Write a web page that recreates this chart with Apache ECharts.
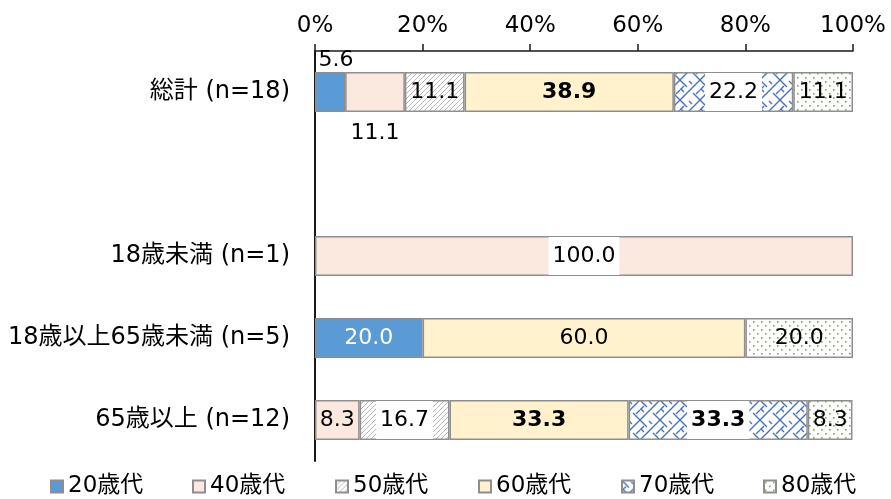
<!DOCTYPE html>
<html>
<head>
<meta charset="utf-8">
<script src="https://cdn.jsdelivr.net/npm/echarts@6/dist/echarts.min.js"></script>
<style>
  html, body { margin: 0; padding: 0; background: #fff; }
  #chart { width: 891px; height: 499px; }
</style>
</head>
<body>
<div id="chart"></div>
<script>
// Age-group composition by respondent group (percent)
const categories = ['総計 (n=18)', '', '18歳未満 (n=1)', '18歳以上65歳未満 (n=5)', '65歳以上 (n=12)'];
const seriesNames = ['20歳代', '40歳代', '50歳代', '60歳代', '70歳代', '80歳代'];
const age20 = [5.6, null, null, 20.0, null];
const age40 = [11.1, null, 100.0, null, 8.3];
const age50 = [11.1, null, null, null, 16.7];
const age60 = [38.9, null, null, 60.0, 33.3];
const age70 = [22.2, null, null, null, 33.3];
const age80 = [11.1, null, null, 20.0, 8.3];
const xTicks = [0, 20, 40, 60, 80, 100];

const FONT = '"DejaVu Sans", "Noto Sans CJK JP", sans-serif';
const BORDER = '#8e8e8e';

// ---- fill patterns ----
function makeTile(w, h, draw) {
  const c = document.createElement('canvas');
  c.width = w; c.height = h;
  const g = c.getContext('2d');
  g.fillStyle = '#fff';
  g.fillRect(0, 0, w, h);
  draw(g);
  return { image: c, repeat: 'repeat' };
}
const hatchGrey = makeTile(5, 5, g => {
  g.strokeStyle = '#b8b8b8';
  g.lineWidth = 1;
  g.beginPath();
  g.moveTo(-1, 6); g.lineTo(6, -1);
  g.moveTo(-1, 1); g.lineTo(1, -1);
  g.moveTo(4, 6); g.lineTo(6, 4);
  g.stroke();
});
const weaveBlue = makeTile(20, 20, g => {
  g.strokeStyle = '#4472c4';
  g.lineWidth = 1.4;
  g.beginPath();
  // rising strands
  g.moveTo(0, 20); g.lineTo(20, 0);
  g.moveTo(0, 10); g.lineTo(4, 6);
  g.moveTo(16, 14); g.lineTo(20, 10);
  // falling strands passing under
  g.moveTo(0, 0); g.lineTo(7, 7);
  g.moveTo(13, 13); g.lineTo(20, 20);
  g.moveTo(9, 1); g.lineTo(12, 4);
  g.moveTo(1, 9); g.lineTo(4, 12);
  g.stroke();
});
const dotsGreen = makeTile(8, 8, g => {
  g.fillStyle = '#6fb04a';
  g.fillRect(1, 1, 1.6, 1.6);
  g.fillRect(5, 5, 1.6, 1.6);
});

const fills = ['#5b9bd5', '#fbe8de', hatchGrey, '#fff2cc', weaveBlue, dotsGreen];
const values = [age20, age40, age50, age60, age70, age80];

// per-cell label tweaks: [series, category] -> label options
const whiteBox = { backgroundColor: '#fff', padding: [8, 4] };
const labelTweaks = {
  '0,0': { position: 'top', distance: 1, offset: [6, 0], color: '#000' },
  '1,0': { position: 'bottom', distance: 10 },
  '1,2': whiteBox,
  '2,4': whiteBox,
  '3,0': { fontWeight: 'bold' },
  '3,4': { fontWeight: 'bold' },
  '4,0': whiteBox,
  '4,4': Object.assign({ fontWeight: 'bold' }, whiteBox)
};

const series = seriesNames.map((name, si) => ({
  name,
  type: 'bar',
  stack: 'total',
  barWidth: 40,
  itemStyle: { color: fills[si], borderColor: BORDER, borderWidth: 1.5 },
  label: {
    show: true,
    position: 'inside',
    fontFamily: FONT,
    fontSize: 22,
    lineHeight: 22,
    color: si === 0 ? '#fff' : '#000',
    formatter: p => (p.value == null ? '' : Number(p.value).toFixed(1))
  },
  data: values[si].map((v, ci) => {
    const t = labelTweaks[si + ',' + ci];
    return t ? { value: v, label: t } : v;
  })
}));

const legendLeft = [45, 187, 330, 473, 616, 758];
const legends = seriesNames.map((name, i) => ({
  data: [name],
  left: legendLeft[i],
  top: 470,
  icon: 'rect',
  itemWidth: 12,
  itemHeight: 12,
  itemGap: 5,
  selectedMode: false,
  textStyle: { fontFamily: FONT, fontSize: 23, color: '#000' }
}));

const chart = echarts.init(document.getElementById('chart'));
chart.setOption({
  animation: false,
  backgroundColor: '#fff',
  grid: { left: 315, right: 38, top: 51, bottom: 38, containLabel: false },
  legend: legends,
  xAxis: {
    type: 'value',
    position: 'top',
    min: xTicks[0],
    max: xTicks[xTicks.length - 1],
    interval: xTicks[1] - xTicks[0],
    axisLine: { show: true, lineStyle: { color: '#1a1a1a', width: 1.5 } },
    axisTick: { show: true, length: 7, lineStyle: { color: '#1a1a1a', width: 1.5 } },
    splitLine: { show: false },
    axisLabel: { formatter: '{value}%', fontFamily: FONT, fontSize: 23, color: '#000', margin: 13 }
  },
  yAxis: {
    type: 'category',
    inverse: true,
    data: categories,
    axisLine: { show: true, lineStyle: { color: '#1a1a1a', width: 2 } },
    axisTick: { show: false },
    axisLabel: { fontFamily: FONT, fontSize: 24, color: '#000', margin: 25 }
  },
  series
});
</script>
</body>
</html>
